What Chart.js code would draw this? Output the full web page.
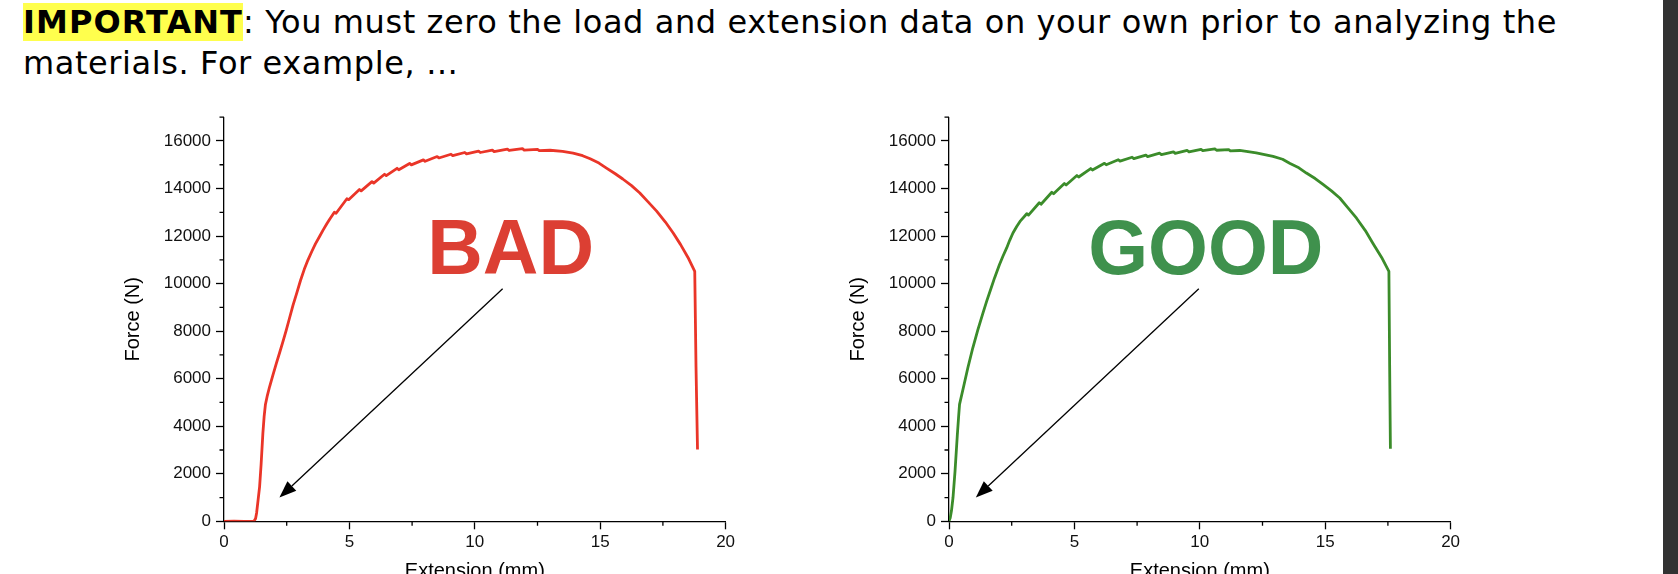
<!DOCTYPE html>
<html>
<head>
<meta charset="utf-8">
<script src="https://cdn.jsdelivr.net/npm/chart.js@4.4.1/dist/chart.umd.min.js"></script>
<style>
  html, body { margin: 0; padding: 0; background: #fff; width: 1678px; height: 574px; overflow: hidden; }
  .note { position: absolute; left: 23px; font-family: "DejaVu Sans", Verdana, sans-serif; font-size: 32px;
          line-height: 40px; color: #000; white-space: nowrap; }
  #line1 { top: 1.9px; }
  #line2 { top: 42.9px; }
  .hl { background: #ffff4d; font-weight: bold; }
  canvas { position: absolute; top: 90px; }
  #badChart { left: 0; }
  #goodChart { left: 725px; }
  #scrollbar { position: absolute; left: 1663px; top: 0; width: 15px; height: 574px; background: #323232; }
</style>
</head>
<body>
<div class="note" id="line1"><span class="hl" id="imp">IMPORTANT</span><span id="rest1">: You must zero the load and extension data on your own prior to analyzing the</span></div>
<div class="note" id="line2"><span id="rest2">materials. For example, …</span></div>
<canvas id="badChart" width="800" height="520"></canvas>
<canvas id="goodChart" width="800" height="520"></canvas>
<div id="scrollbar"></div>
<script>
// eixos
const xTicks = [0, 5, 10, 15, 20];
const yTicks = [0, 2000, 4000, 6000, 8000, 10000, 12000, 14000, 16000];
const xMinor = [2.5, 7.5, 12.5, 17.5];
const yMinor = [1000, 3000, 5000, 7000, 9000, 11000, 13000, 15000, 17000];

// curva "BAD" (sem zerar)
const badExt = [0, 0.4, 0.8, 1.2, 1.26, 1.3, 1.36, 1.42, 1.48, 1.55, 1.6, 1.65, 1.73, 1.82, 1.95, 2.09, 2.22, 2.35,
  2.48, 2.6, 2.75, 2.9, 3.05, 3.2, 3.35, 3.5, 3.65, 3.81, 3.95, 4.1, 4.22,
  4.4, 4.47, 4.9, 4.97, 5.4, 5.47, 5.9, 5.97, 6.4, 6.47, 6.9, 6.97, 7.4, 7.47, 7.95, 8.02, 8.5, 8.57, 9.05, 9.12,
  9.6, 9.67, 10.15, 10.22, 10.7, 10.77, 11.3, 11.37, 11.9, 11.97, 12.5, 12.57,
  13.0, 13.5, 13.92, 14.3, 14.6, 14.95, 15.25, 15.6, 15.9, 16.25, 16.58, 16.9, 17.25, 17.6, 17.91, 18.2, 18.5,
  18.77, 18.82, 18.88];
const badForce = [0, 10, 0, 10, 120, 350, 900, 1460, 2400, 3700, 4400, 4900, 5300, 5670, 6150, 6650, 7100, 7560,
  8030, 8500, 9080, 9600, 10130, 10600, 11000, 11350, 11680, 11980, 12250, 12520, 12720,
  13000, 12960, 13570, 13530, 13960, 13900, 14290, 14230, 14600, 14540, 14850, 14790, 15055, 14995, 15205, 15145,
  15345, 15285, 15440, 15380, 15515, 15455, 15575, 15515, 15615, 15555, 15660, 15600, 15675, 15615, 15645, 15590,
  15610, 15560, 15490, 15380, 15250, 15070, 14860, 14620, 14400, 14120, 13810, 13450, 13050, 12590, 12130, 11650, 11100,
  10510, 6500, 3020];

// curva "GOOD" (zerada)
const goodExt = [0, 0.05, 0.1, 0.16, 0.24, 0.33, 0.38, 0.42, 0.59, 0.75, 0.95, 1.15, 1.35, 1.5, 1.65,
  1.82, 2.01, 2.15, 2.3, 2.42, 2.55, 2.7, 2.85,
  3.1, 3.17, 3.6, 3.67, 4.1, 4.17, 4.6, 4.67, 5.1, 5.17, 5.65, 5.72, 6.2, 6.27, 6.75, 6.82, 7.3, 7.37, 7.85, 7.92,
  8.4, 8.47, 8.95, 9.02, 9.5, 9.57, 10.05, 10.12, 10.6, 10.67, 11.15, 11.22,
  11.59, 12.25, 12.92, 13.3, 13.6, 13.95, 14.25, 14.6, 14.9, 15.25, 15.58, 15.9, 16.25, 16.6, 16.9, 17.25,
  17.54, 17.57, 17.6];
const goodForce = [0, 150, 450, 1000, 2100, 3600, 4350, 4920, 5700, 6450, 7300, 8050, 8750, 9250, 9720,
  10250, 10790, 11150, 11500, 11820, 12130, 12400, 12640,
  12940, 12880, 13400, 13340, 13840, 13780, 14210, 14150, 14545, 14485, 14840, 14780, 15060, 15000, 15210, 15150,
  15315, 15255, 15405, 15345, 15485, 15425, 15540, 15480, 15600, 15540, 15650, 15590, 15670, 15610, 15640, 15580,
  15600, 15500, 15350, 15230, 15050, 14870, 14650, 14420, 14180, 13900, 13600, 13200, 12750, 12230, 11700, 11100,
  10510, 6500, 3050];

// anotações: [x inicial, y inicial, x ponta, y ponta]
const badArrow = [11.11, 9780, 2.21, 1000];
const goodArrow = [9.96, 9780, 1.07, 1000];
const badLabel = [11.43, 10390];
const goodLabel = [10.24, 10390];

Chart.defaults.font.family = '"Liberation Sans", Arial, sans-serif';

// ticks menores, seta e texto grande
const extras = {
  id: 'extras',
  afterDraw(chart, args, opts) {
    const ctx = chart.ctx;
    const x = chart.scales.x, y = chart.scales.y;
    ctx.save();
    ctx.strokeStyle = '#000';
    ctx.lineWidth = 1.3;
    ctx.beginPath();
    xMinor.forEach(v => {
      const px = x.getPixelForValue(v);
      ctx.moveTo(px, y.bottom);
      ctx.lineTo(px, y.bottom + 4.5);
    });
    yMinor.forEach(v => {
      const py = y.getPixelForValue(v);
      ctx.moveTo(x.left, py);
      ctx.lineTo(x.left - 4.5, py);
    });
    ctx.stroke();

    const sx = x.getPixelForValue(opts.arrow[0]), sy = y.getPixelForValue(opts.arrow[1]);
    const tx = x.getPixelForValue(opts.arrow[2]), ty = y.getPixelForValue(opts.arrow[3]);
    const ang = Math.atan2(ty - sy, tx - sx);
    const headLen = 17, headHalf = 6.5;
    const bx = tx - headLen * Math.cos(ang), by = ty - headLen * Math.sin(ang);
    ctx.lineWidth = 1.3;
    ctx.beginPath();
    ctx.moveTo(sx, sy);
    ctx.lineTo(bx, by);
    ctx.stroke();
    ctx.fillStyle = '#000';
    ctx.beginPath();
    ctx.moveTo(tx, ty);
    ctx.lineTo(bx + headHalf * Math.sin(ang), by - headHalf * Math.cos(ang));
    ctx.lineTo(bx - headHalf * Math.sin(ang), by + headHalf * Math.cos(ang));
    ctx.closePath();
    ctx.fill();

    ctx.font = 'bold 77px "Liberation Sans", Arial, sans-serif';
    ctx.fillStyle = opts.color;
    ctx.textAlign = 'center';
    ctx.textBaseline = 'alphabetic';
    ctx.fillText(opts.text, x.getPixelForValue(opts.label[0]), y.getPixelForValue(opts.label[1]));
    ctx.restore();
  }
};

function makeChart(id, ext, force, lineColor, text, textColor, arrow, label) {
  const canvas = document.getElementById(id);
  return new Chart(canvas.getContext('2d'), {
    type: 'scatter',
    data: {
      datasets: [{
        data: ext.map((v, i) => ({ x: v, y: force[i] })),
        showLine: true,
        borderColor: lineColor,
        borderWidth: 2.8,
        borderJoinStyle: 'round',
        pointRadius: 0,
        tension: 0
      }]
    },
    options: {
      responsive: false,
      animation: false,
      devicePixelRatio: 1,
      layout: { padding: { left: 0, top: 27.2, right: 74.4, bottom: 0 } },
      plugins: {
        legend: { display: false },
        tooltip: { enabled: false },
        extras: { arrow: arrow, label: label, text: text, color: textColor }
      },
      scales: {
        x: {
          type: 'linear',
          min: 0,
          max: 20,
          afterBuildTicks: s => { s.ticks = xTicks.map(v => ({ value: v })); },
          afterFit: s => { s.height = 88.7; },
          border: { color: '#000', width: 1.3 },
          grid: { drawOnChartArea: false, tickLength: 8, tickColor: '#000', tickWidth: 1.3 },
          ticks: { color: '#111', font: { size: 17 }, padding: 3, maxRotation: 0, autoSkip: false,
                   callback: v => String(v) },
          title: { display: true, text: 'Extension (mm)', color: '#000', font: { size: 20 }, padding: { top: 0, bottom: 27 } }
        },
        y: {
          type: 'linear',
          min: 0,
          max: 17000,
          afterBuildTicks: s => { s.ticks = yTicks.map(v => ({ value: v })); },
          afterFit: s => { s.width = 224; },
          border: { color: '#000', width: 1.3 },
          grid: { drawOnChartArea: false, tickLength: 8, tickColor: '#000', tickWidth: 1.3 },
          ticks: { color: '#111', font: { size: 17 }, padding: 5, autoSkip: false,
                   callback: v => String(v) },
          title: { display: true, text: 'Force (N)', color: '#000', font: { size: 20 }, padding: { top: 121, bottom: 0 } }
        }
      }
    },
    plugins: [extras]
  });
}

makeChart('badChart', badExt, badForce, '#ea3528', 'BAD', '#dc3f33', badArrow, badLabel);
makeChart('goodChart', goodExt, goodForce, '#3b8c2a', 'GOOD', '#3f914d', goodArrow, goodLabel);

// ajusta a largura do texto ao original
function fitNote() {
  const imp = document.getElementById('imp');
  const rest1 = document.getElementById('rest1');
  const rest2 = document.getElementById('rest2');
  imp.style.letterSpacing = '0px';
  rest1.style.letterSpacing = '0px';
  const wImp = imp.getBoundingClientRect().width;
  imp.style.letterSpacing = ((220 - wImp) / imp.textContent.length) + 'px';
  const wRest = rest1.getBoundingClientRect().width;
  const ls = ((1557 - 23 - 220) - wRest) / rest1.textContent.length;
  rest1.style.letterSpacing = ls + 'px';
  rest2.style.letterSpacing = ls + 'px';
}
fitNote();
document.fonts.ready.then(fitNote);
</script>
</body>
</html>
